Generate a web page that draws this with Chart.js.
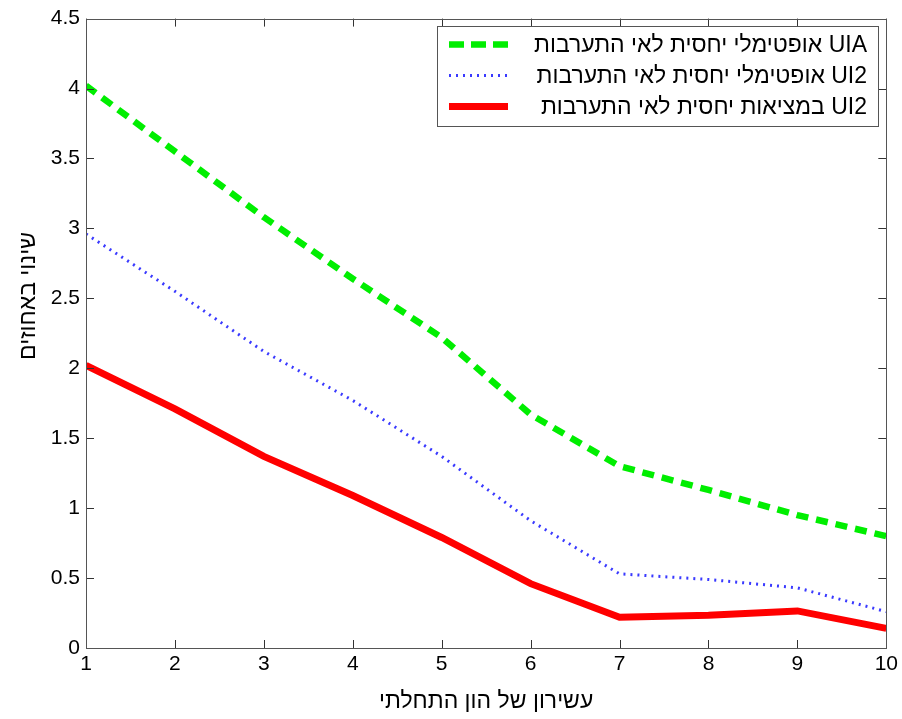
<!DOCTYPE html>
<html>
<head>
<meta charset="utf-8">
<script src="https://cdn.jsdelivr.net/npm/chart.js@4/dist/chart.umd.min.js"></script>
<style>
  html, body { margin: 0; padding: 0; background: #fff; }
  #wrap { width: 902px; height: 719px; }
</style>
</head>
<body>
<div id="wrap"><canvas id="c" width="902" height="719"></canvas></div>
<script>
const deciles = [1, 2, 3, 4, 5, 6, 7, 8, 9, 10];
const uiaOptimal = [4.02, 3.55, 3.08, 2.64, 2.22, 1.67, 1.30, 1.13, 0.95, 0.80];
const ui2Optimal = [2.96, 2.55, 2.12, 1.77, 1.37, 0.91, 0.53, 0.49, 0.43, 0.26];
const ui2Actual  = [2.02, 1.71, 1.37, 1.09, 0.79, 0.46, 0.22, 0.235, 0.265, 0.14];
const seriesNames = [
  'UIA אופטימלי יחסית לאי התערבות',
  'UI2 אופטימלי יחסית לאי התערבות',
  'UI2 במציאות יחסית לאי התערבות'
];
const yTicks = [0, 0.5, 1, 1.5, 2, 2.5, 3, 3.5, 4, 4.5];
const yTitle = 'שינוי באחוזים';
const xTitle = 'עשירון של הון התחלתי';

const FONT = '"Liberation Sans", Arial, sans-serif';

// matlab-style frame with inward ticks on all sides + legend box + y title
const matlabFrame = {
  id: 'matlabFrame',
  afterDatasetsDraw(chart) {
    const { ctx, chartArea: a, scales: { x, y } } = chart;
    ctx.save();
    ctx.strokeStyle = '#333';
    ctx.lineWidth = 1;
    const tl = 8;
    ctx.beginPath();
    deciles.forEach(v => {
      const px = Math.round(x.getPixelForValue(v)) + 0.5;
      ctx.moveTo(px, a.bottom); ctx.lineTo(px, a.bottom - tl);
      ctx.moveTo(px, a.top);    ctx.lineTo(px, a.top + tl);
    });
    yTicks.forEach(v => {
      const py = Math.round(y.getPixelForValue(v)) + 0.5;
      ctx.moveTo(a.left, py);  ctx.lineTo(a.left + tl, py);
      ctx.moveTo(a.right, py); ctx.lineTo(a.right - tl, py);
    });
    ctx.stroke();
    ctx.strokeStyle = '#555';
    ctx.strokeRect(Math.round(a.left) + 0.5, Math.round(a.top) + 0.5,
      Math.round(a.right - a.left), Math.round(a.bottom - a.top));

    // legend
    const bx = 437.5, by = 26.5, bw = 441, bh = 100;
    ctx.fillStyle = '#fff';
    ctx.fillRect(bx, by, bw, bh);
    ctx.strokeStyle = '#555';
    ctx.strokeRect(bx, by, bw, bh);
    chart.data.datasets.forEach((ds, i) => {
      const cy = by + 18 + i * 31;
      ctx.save();
      ctx.beginPath();
      ctx.strokeStyle = ds.borderColor;
      ctx.lineWidth = ds.borderWidth;
      ctx.setLineDash(i === 0 ? [15, 7] : (ds.borderDash || []));
      ctx.lineCap = 'butt';
      ctx.moveTo(449, cy); ctx.lineTo(508, cy);
      ctx.stroke();
      ctx.restore();
      ctx.fillStyle = '#000';
      ctx.font = '23px ' + FONT;
      ctx.direction = 'rtl';
      ctx.textAlign = 'right';
      ctx.textBaseline = 'middle';
      ctx.fillText(ds.label, 867, cy + 1);
    });

    // y title (sits above the axis centre, as in the source figure)
    ctx.translate(29, 296);
    ctx.rotate(-Math.PI / 2);
    ctx.fillStyle = '#000';
    ctx.font = '23px ' + FONT;
    ctx.direction = 'rtl';
    ctx.textAlign = 'center';
    ctx.textBaseline = 'middle';
    ctx.fillText(yTitle, 0, 0);
    ctx.restore();
  }
};

new Chart(document.getElementById('c'), {
  type: 'line',
  data: {
    labels: deciles,
    datasets: [
      { label: seriesNames[0], data: uiaOptimal, borderColor: '#00ee00', borderWidth: 6.5,
        borderDash: [12, 8], pointRadius: 0, tension: 0 },
      { label: seriesNames[1], data: ui2Optimal, borderColor: '#3a3aff', borderWidth: 3,
        borderDash: [2, 5], pointRadius: 0, tension: 0 },
      { label: seriesNames[2], data: ui2Actual, borderColor: '#ff0000', borderWidth: 7,
        pointRadius: 0, tension: 0 }
    ]
  },
  options: {
    responsive: false,
    animation: false,
    layout: { padding: { left: 0, top: 16, right: 15, bottom: 0 } },
    plugins: { legend: { display: false }, tooltip: { enabled: false } },
    scales: {
      x: {
        type: 'linear', min: 1, max: 10,
        afterFit: s => { s.height = 71; },
        afterBuildTicks: s => { s.ticks = deciles.map(v => ({ value: v })); },
        grid: { display: false, drawTicks: false },
        border: { display: false },
        ticks: { color: '#000', font: { family: FONT, size: 21 }, padding: 4,
          callback: v => String(v) },
        title: { display: true, text: xTitle, color: '#000',
          font: { family: FONT, size: 23 }, padding: { top: 5 } }
      },
      y: {
        min: 0, max: 4.5,
        afterFit: s => { s.width = 86; },
        afterBuildTicks: s => { s.ticks = yTicks.map(v => ({ value: v })); },
        grid: { display: false, drawTicks: false },
        border: { display: false },
        ticks: { color: '#000', font: { family: FONT, size: 21 }, padding: 6,
          callback: v => String(v) },
        title: { display: false }
      }
    }
  },
  plugins: [matlabFrame]
});
</script>
</body>
</html>
